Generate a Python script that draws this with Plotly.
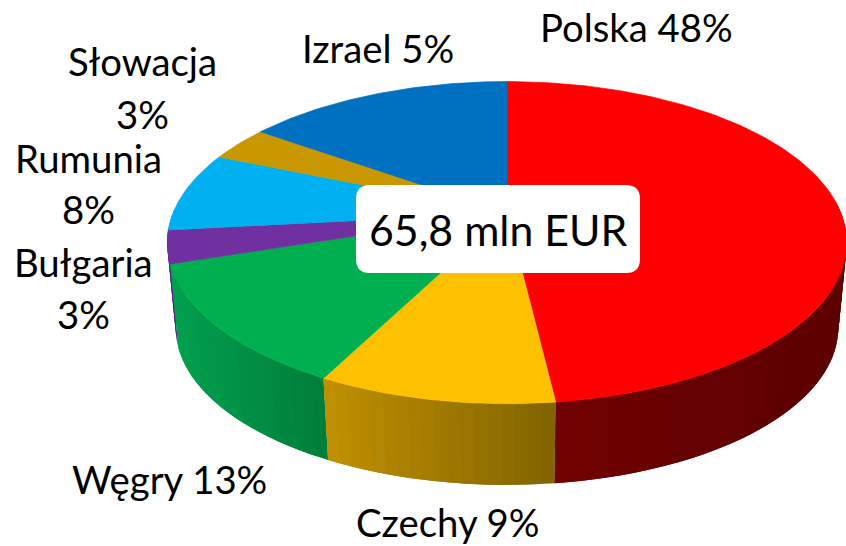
import math
import plotly.graph_objects as go

# Data
categories = ["Polska", "Czechy", "Węgry", "Bułgaria", "Rumunia", "Słowacja", "Izrael"]
slice_shares = [48.1, 9.5, 12.4, 3.3, 8, 3.5, 15.2]
label_lines = [["Polska 48%"], ["Czechy 9%"], ["Węgry 13%"], ["Bułgaria", "3%"],
               ["Rumunia", "8%"], ["Słowacja", "3%"], ["Izrael 5%"]]
centre_label = "65,8 mln EUR"

# Styles
top_colors = ["#FF0000", "#FFC000", "#00B050", "#7030A0", "#00B0F0", "#C99800", "#0070C0"]
side_left = [(0x70, 0, 0), (0xC0, 0x90, 0), (0, 0xA0, 0x4F), (0x55, 0x25, 0x80),
             (0, 0x80, 0xB0), (0x90, 0x70, 0), (0, 0x50, 0x90)]
side_right = [(0x5C, 0, 0), (0x80, 0x63, 0), (0, 0x7D, 0x3A), (0x55, 0x25, 0x80),
              (0, 0x80, 0xB0), (0x90, 0x70, 0), (0, 0x50, 0x90)]
label_pos = [[(636, 27)], [(447, 522)], [(169, 479)], [(83, 262), (83, 314)],
             [(88, 158), (88, 209)], [(142, 61), (142, 114)], [(378, 48)]]
FONT = "Lato"
FS = 38.3

# Perspective projection of the pie disc
CX, APEX_Y, PX, PY, B = 507, 213, 334, 155.6, -0.184
SCALE_BOTTOM, APEX_BOTTOM = 0.975, 299


def project(deg, bottom=False):
    u, v = math.sin(math.radians(deg)), -math.cos(math.radians(deg))
    w = 1 + B * v
    s = SCALE_BOTTOM if bottom else 1
    return CX + s * PX * u / w, (APEX_BOTTOM if bottom else APEX_Y) + s * PY * v / w


def frange(a, b, step):
    n = max(1, int(math.ceil((b - a) / step)))
    return [a + (b - a) * i / n for i in range(n + 1)]


total = sum(slice_shares)
edges = [0]
for s in slice_shares:
    edges.append(edges[-1] + 360 * s / total)

fig = go.Figure()


def poly(pts, color, width=0.7):
    fig.add_trace(go.Scatter(x=[p[0] for p in pts], y=[p[1] for p in pts], mode="lines",
                             fill="toself", fillcolor=color,
                             line=dict(color=color, width=width),
                             hoverinfo="skip", showlegend=False))


# Side wall, painted from the outer ends towards the front
order = sorted(range(len(categories)), key=lambda i: -abs((edges[i] + edges[i + 1]) / 2 - 180))
for i in order:
    a, b = max(edges[i], 85), min(edges[i + 1], 272)
    if a >= b:
        continue
    x0, x1 = project(a)[0], project(b)[0]
    lo, hi = min(x0, x1), max(x0, x1)
    angles = frange(a, b, 2)
    for k in range(len(angles) - 1):
        d0 = angles[k]
        d1 = angles[min(k + 2, len(angles) - 1)]  # overlap the next strip, which paints over it
        mid = project((angles[k] + angles[k + 1]) / 2)[0]
        t = min(1, max(0, (mid - lo) / max(hi - lo, 1)))
        rgb = [round(l + (r - l) * t) for l, r in zip(side_left[i], side_right[i])]
        mids = [project(d) for d in frange(d0, d1, 2)]
        low = [project(d, True) for d in reversed(frange(d0, d1, 2))]
        pts = mids + low
        poly(pts + [pts[0]], f"rgb({rgb[0]},{rgb[1]},{rgb[2]})", width=0)

# Top surface
for i in range(len(categories)):
    arc = [project(d) for d in frange(edges[i], edges[i + 1], 1)]
    poly([(CX, APEX_Y)] + arc + [(CX, APEX_Y)], top_colors[i])

annotations = []
for lines, pos in zip(label_lines, label_pos):
    for line, (x, y) in zip(lines, pos):
        annotations.append(dict(x=x, y=y, text=line, showarrow=False, xref="x", yref="y",
                                font=dict(family=FONT, size=FS, color="#000000")))
annotations.append(dict(x=498, y=229, text=centre_label, showarrow=False, xref="x", yref="y",
                        font=dict(family=FONT, size=42.8, color="#000000")))

# Rounded white box
x0, x1, y0, y1, r = 356, 640, 185, 273, 14
box = (f"M{x0+r},{y0} L{x1-r},{y0} Q{x1},{y0} {x1},{y0+r} L{x1},{y1-r} Q{x1},{y1} {x1-r},{y1} "
       f"L{x0+r},{y1} Q{x0},{y1} {x0},{y1-r} L{x0},{y0+r} Q{x0},{y0} {x0+r},{y0} Z")

fig.update_layout(
    width=846, height=546, margin=dict(l=0, r=0, t=0, b=0),
    paper_bgcolor="white", plot_bgcolor="white", showlegend=False,
    xaxis=dict(range=[0, 846], visible=False, fixedrange=True),
    yaxis=dict(range=[546, 0], visible=False, fixedrange=True),
    shapes=[dict(type="path", path=box, fillcolor="white", line=dict(width=0), layer="above")],
    annotations=annotations,
)
fig.write_html("out.html", config=dict(displayModeBar=False),
               post_script="document.body.style.margin='0';document.documentElement.style.overflow='hidden';")
